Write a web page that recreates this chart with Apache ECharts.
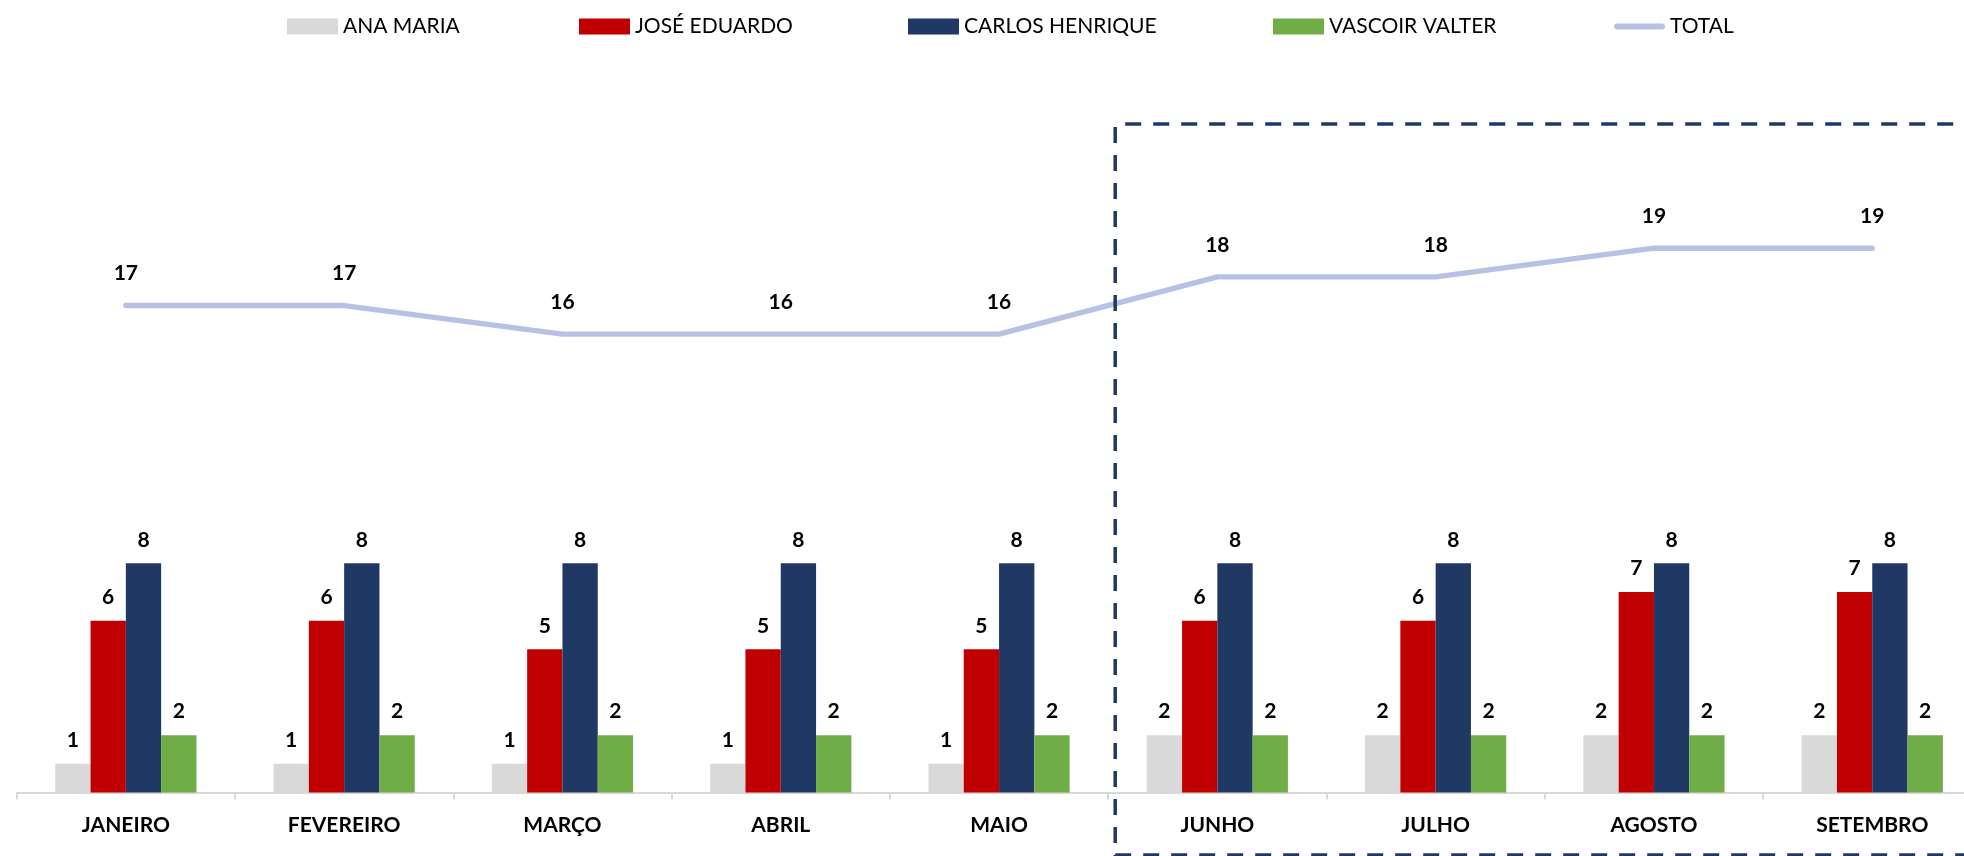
<!DOCTYPE html>
<html>
<head>
<meta charset="utf-8">
<script src="https://cdn.jsdelivr.net/npm/echarts@6/dist/echarts.min.js"></script>
<style>
html,body{margin:0;padding:0;background:#fff;overflow:hidden;}
#chart{width:1982px;height:856px;}
</style>
</head>
<body>
<div id="chart"></div>
<script>
const categories = ['JANEIRO','FEVEREIRO','MARÇO','ABRIL','MAIO','JUNHO','JULHO','AGOSTO','SETEMBRO'];
const anaMaria = [1,1,1,1,1,2,2,2,2];
const joseEduardo = [6,6,5,5,5,6,6,7,7];
const carlosHenrique = [8,8,8,8,8,8,8,8,8];
const vascoirValter = [2,2,2,2,2,2,2,2,2];
const total = [17,17,16,16,16,18,18,19,19];
const seriesNames = ['ANA MARIA','JOSÉ EDUARDO','CARLOS HENRIQUE','VASCOIR VALTER','TOTAL'];

const FONT = "Lato, 'Liberation Sans', sans-serif";
const labelStyle = {show:true, position:'top', distance:13, color:'#000', fontWeight:'bold', fontSize:21, fontFamily:FONT};

function bar(name, data, color){
  return {name, type:'bar', data, barWidth:35.3, barGap:'0%', itemStyle:{color},
    label:labelStyle};
}

const legendLefts = [287, 579, 908, 1273, 1614];
const lineIcon = 'path://M3,0 H48 A3,3 0 0 1 48,6 H3 A3,3 0 0 1 3,0 Z';
const legends = seriesNames.map((n, i) => ({
  top:16, left:legendLefts[i], padding:0, itemWidth:51, itemHeight:16,
  textStyle:{fontFamily:FONT, fontSize:21, color:'#000'},
  data:[{name:n, icon: n === 'TOTAL' ? lineIcon : 'rect'}]
}));

const chart = echarts.init(document.getElementById('chart'));
const option = {
  animation:false,
  backgroundColor:'#fff',
  legend:legends,
  grid:{left:16.7, right:0.6, top:105, height:687.5, containLabel:false},
  xAxis:{
    type:'category', data:categories,
    axisLine:{lineStyle:{color:'#d9d9d9', width:2}},
    axisTick:{show:true, length:7, lineStyle:{color:'#d9d9d9', width:2}},
    axisLabel:{color:'#000', fontWeight:'bold', fontSize:21, fontFamily:FONT, margin:22}
  },
  yAxis:{type:'value', min:0, max:24, show:false, splitLine:{show:false}},
  series:[
    bar(seriesNames[0], anaMaria, '#d9d9d9'),
    bar(seriesNames[1], joseEduardo, '#c00000'),
    bar(seriesNames[2], carlosHenrique, '#203864'),
    bar(seriesNames[3], vascoirValter, '#70ad47'),
    {name:seriesNames[4], type:'line', data:total, symbol:'circle', symbolSize:1, showSymbol:true,
      lineStyle:{color:'#b7c1e3', width:5.3, cap:'round'}, itemStyle:{color:'#b7c1e3'},
      label:Object.assign({}, labelStyle, {distance:21})}
  ]
};
chart.setOption(option);

// dashed highlight box starting just right of the boundary between MAIO and JUNHO
const pMaio = chart.convertToPixel({xAxisIndex:0}, 'MAIO');
const pJunho = chart.convertToPixel({xAxisIndex:0}, 'JUNHO');
const boxLeft = (pMaio + pJunho) / 2 + 7;
const boxTop = 124;
const boxBottom = 855;
const dashStyle = {stroke:'#203864', lineWidth:3.5, lineDash:[16,12]};
chart.setOption({
  graphic:[
    {type:'line', z:100, shape:{x1:boxLeft + 10, y1:boxTop, x2:2000, y2:boxTop}, style:dashStyle},
    {type:'line', z:100, shape:{x1:boxLeft, y1:boxTop + 3, x2:boxLeft, y2:boxBottom + 20}, style:dashStyle},
    {type:'line', z:100, shape:{x1:boxLeft, y1:boxBottom, x2:2000, y2:boxBottom}, style:dashStyle}
  ]
});
</script>
</body>
</html>
